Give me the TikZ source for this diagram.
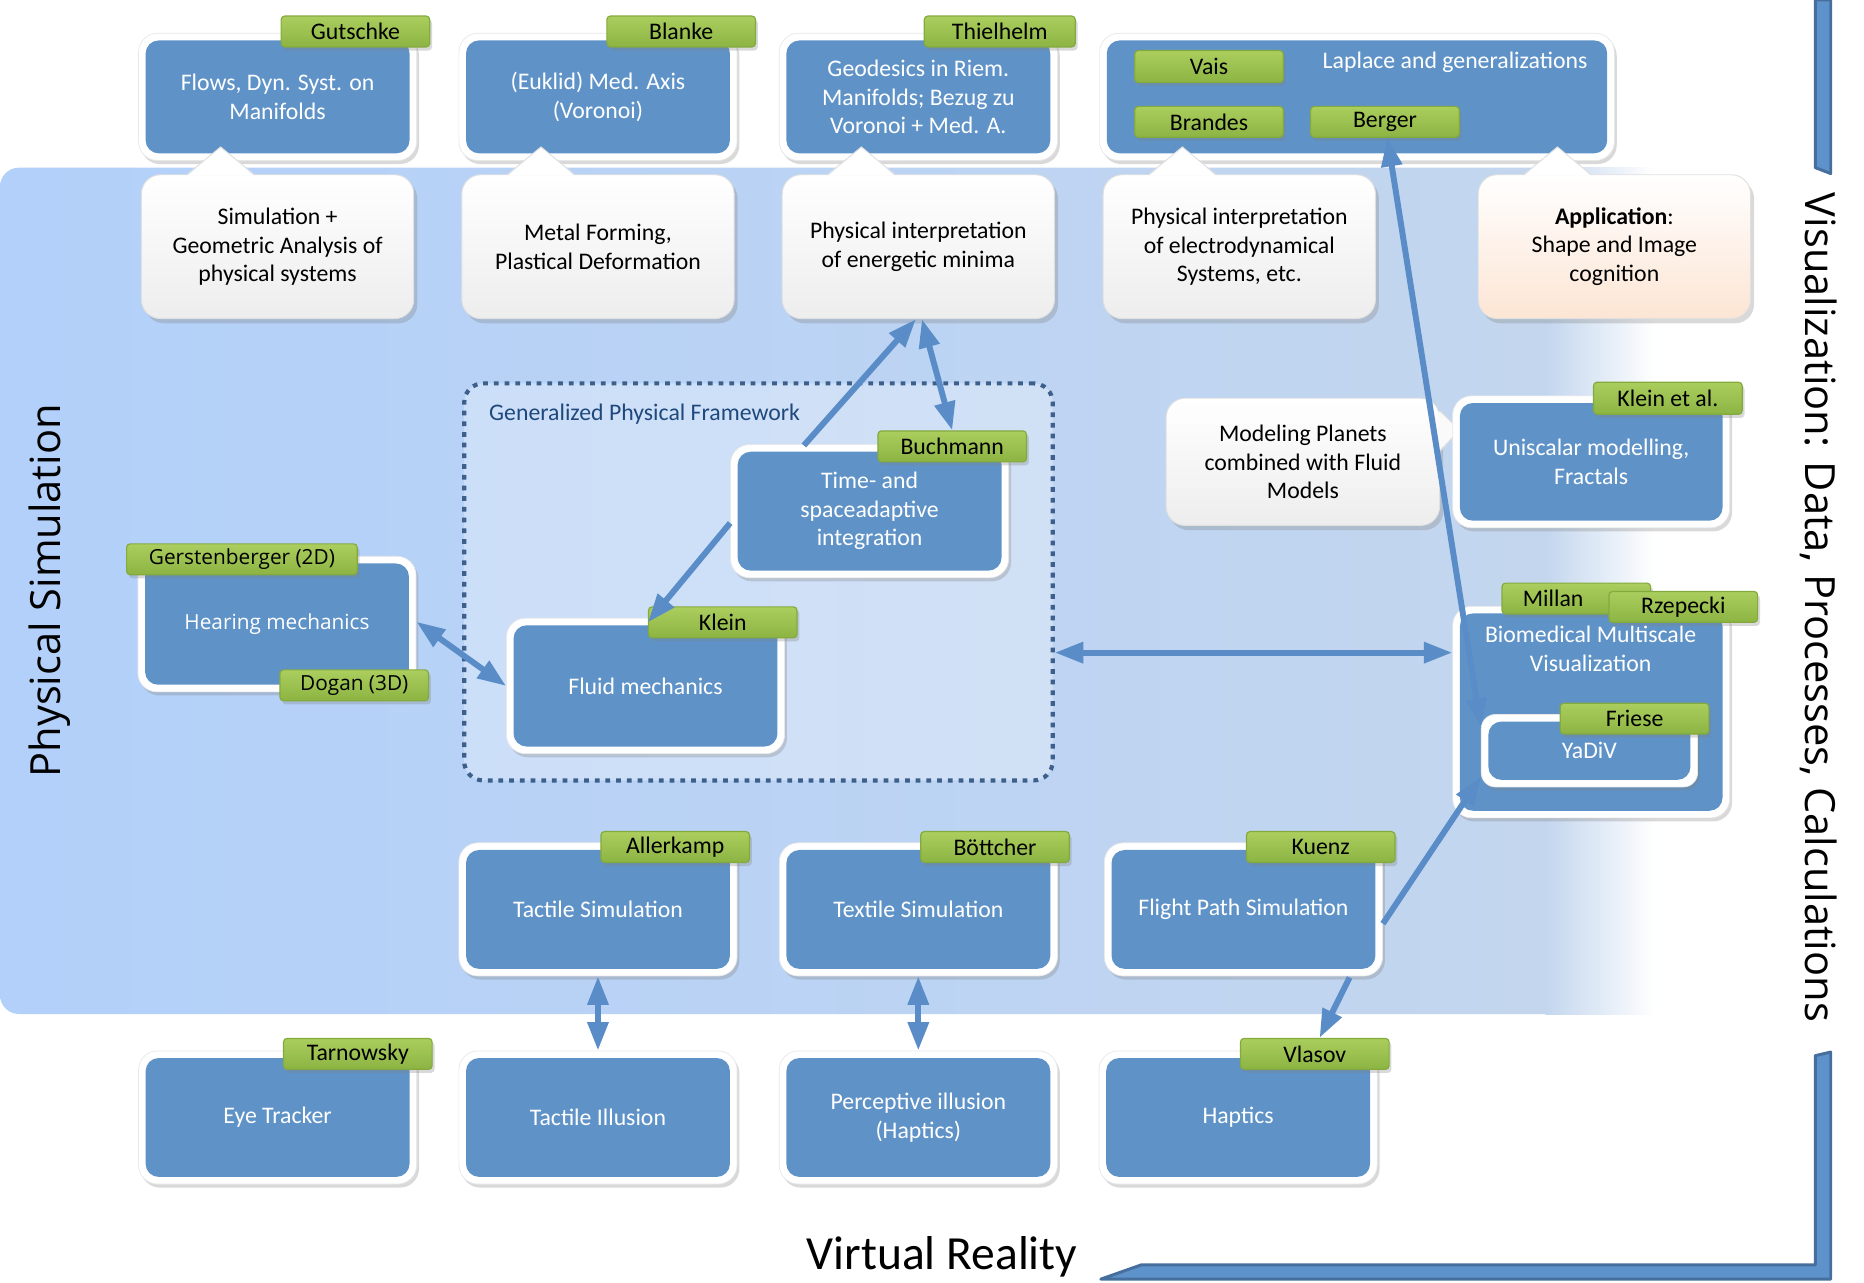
\documentclass[tikz,border=0pt]{standalone}
\usepackage{fontspec}
\setmainfont{Carlito}
\newfontfamily\osans{Open Sans}
\usepackage{tikz}
\usetikzlibrary{calc,arrows.meta,positioning,shadows}
\definecolor{bluex}{HTML}{5F93C8}
\definecolor{arrowx}{HTML}{5A8DC8}
\definecolor{greentop}{HTML}{ABCE5E}
\definecolor{greenbot}{HTML}{8CB443}
\definecolor{greenedge}{HTML}{84AA3E}
\definecolor{bgleft}{HTML}{B2D0FA}
\definecolor{bgright}{HTML}{C3D6EE}
\definecolor{framex}{HTML}{3C5F8C}
\definecolor{titlex}{HTML}{1F497D}
\definecolor{peachx}{HTML}{FCE5D4}
\definecolor{barx}{HTML}{5E92CA}
\definecolor{baredge}{HTML}{466F9E}
\newcommand{\boxfont}{\fontsize{20}{24}\selectfont}
\newcommand{\vfont}{\osans\fontsize{17.5}{21}\selectfont}
\tikzset{
  ar/.style={draw=arrowx,line width=5pt,-{Triangle[length=24pt,width=17pt]}},
  arr/.style={draw=arrowx,line width=5pt,{Triangle[length=24pt,width=17pt]}-{Triangle[length=24pt,width=17pt]}},
  box/.style={fill=white,draw=black!9,line width=.6pt,rounded corners=16pt,text=white,align=center,font=\boxfont,inner sep=2pt,
    minimum width=234pt,minimum height=112pt,drop shadow={shadow xshift=2pt,shadow yshift=-3pt,opacity=.3},
    path picture={\fill[bluex,rounded corners=11pt]
      ([shift={(6pt,-6pt)}]path picture bounding box.north west) rectangle
      ([shift={(-6pt,6pt)}]path picture bounding box.south east);}},
  tag/.style={draw=greenedge,line width=1pt,top color=greentop,bottom color=greenbot,rounded corners=3pt,
    minimum width=125pt,minimum height=26pt,inner sep=0pt,font=\boxfont,text=black,
    drop shadow={shadow xshift=2pt,shadow yshift=-3pt,opacity=.3}},
  bubble/.style={draw=black!12,line width=.8pt,top color=white,bottom color=black!7,rounded corners=16pt,
    minimum width=229pt,minimum height=121pt,align=center,font=\boxfont,inner sep=2pt,
    drop shadow={shadow xshift=3pt,shadow yshift=-4pt,opacity=.3}}
}

\begin{document}
\begin{tikzpicture}[x=1pt,y=-1pt]
\useasboundingbox (0,0) rectangle (1568,1079);
% simulation area
\shade[left color=bgleft,right color=bgright,rounded corners=16pt] (1300,853) -- (0,853) -- (0,141) -- (1300,141);
\shade[left color=bgright,right color=white] (1300,141) rectangle (1392,853);
\node[draw=framex,line width=3.5pt,dash pattern=on 4pt off 5pt,fill=white,fill opacity=.3,rounded corners=16pt,
  minimum width=495pt,minimum height=334pt] (gpf) at (638,489.5) {};
\node[anchor=west,text=titlex,font=\boxfont] (gpftitle) at (408,348) {Generalized Physical Framework};

% top row
\node[box,minimum height=107pt] (flows) at (233.5,81.5) {Flows, Dyn. Syst. on\\Manifolds};
\node[box,minimum height=107pt] (med) at (503,81.5) {(Euklid) Med. Axis\\(Voronoi)};
\node[box,minimum height=107pt] (geo) at (772.5,81.5) {Geodesics in Riem.\\Manifolds; Bezug zu\\Voronoi + Med. A.};
\node[box,minimum width=433pt,minimum height=107pt] (lap) at (1141.5,81.5) {};
\node[text=white,font=\boxfont] (laptxt) at (1224,52) {Laplace and generalizations};

% callouts
\node[bubble] (sim) at (233.5,207.5) {Simulation +\\Geometric Analysis of\\physical systems};
\node[bubble] (metal) at (503,207.5) {Metal Forming,\\Plastical Deformation};
\node[bubble] (ener) at (772.5,207.5) {Physical interpretation\\of energetic minima};
\node[bubble] (elec) at (1042.5,207.5) {Physical interpretation\\of electrodynamical\\Systems, etc.};
\node[bubble,bottom color=peachx] (app) at (1358,207.5) {\textbf{Application}:\\Shape and Image\\cognition};
\foreach \n in {sim,metal,ener,elec,app}{
  \fill[white] ($(\n.north west)+(39,1)$) -- ($(\n.north west)+(67,-23)$) -- ($(\n.north west)+(95,1)$) -- cycle;
  \draw[black!12,line width=.8pt] ($(\n.north west)+(39,0)$) -- ($(\n.north west)+(67,-23)$) -- ($(\n.north west)+(95,0)$);
}

% generalized framework
\node[box] (tsa) at (731.5,430) {Time- and\\spaceadaptive\\integration};
\node[box,minimum height=114pt] (fluid) at (543,577) {Fluid mechanics};
\node[box,minimum height=114pt,font=\vfont] (hear) at (233,525) {Hearing mechanics};

% right column
\node[bubble,minimum width=230pt,minimum height=107pt] (planets) at (1096,388.5) {Modeling Planets\\combined with Fluid\\Models};
\fill[black!2] ($(planets.north east)+(-1,11)$) -- ($(planets.north east)+(16,27)$) -- ($(planets.north east)+(-1,45)$) -- cycle;
\draw[black!12,line width=.8pt] ($(planets.north east)+(0,11)$) -- ($(planets.north east)+(16,27)$) -- ($(planets.north east)+(0,45)$);
\node[box,minimum width=233pt,minimum height=111pt] (uni) at (1338.5,388.5) {Uniscalar modelling,\\Fractals};
\node[box,minimum width=233pt,minimum height=178pt] (bio) at (1338.5,599) {};
\node[text=white,font=\boxfont,align=center] (biotxt) at (1338,546) {Biomedical Multiscale\\Visualization};
\node[box,minimum width=182pt,minimum height=61pt,rounded corners=12pt] (yad) at (1337,631.5) {YaDiV};

% bottom rows
\node[box] (tsim) at (503,765) {Tactile Simulation};
\node[box] (txsim) at (772.5,765) {Textile Simulation};
\node[box] (flight) at (1046,765) {Flight Path Simulation};
\node[box] (eye) at (233.5,940) {Eye Tracker};
\node[box] (till) at (503,940) {Tactile Illusion};
\node[box] (perc) at (772.5,940) {Perceptive illusion\\(Haptics)};
\node[box] (hap) at (1041.5,940) {Haptics};

% name tags
\node[tag] (gut) at (299,26.5) {Gutschke};
\node[tag] (bla) at (573,26.5) {Blanke};
\node[tag,minimum width=127pt] (thi) at (841,26.5) {Thielhelm};
\node[tag,minimum height=27pt] (vais) at (1017,56) {Vais};
\node[tag] (bra) at (1017,102.5) {Brandes};
\node[tag] (ber) at (1165,102.5) {Berger};
\node[tag] (buch) at (801,375.5) {Buchmann};
\node[tag] (klein) at (608,523.5) {Klein};
\node[tag,minimum width=194pt,font=\vfont] (gers) at (203.5,470.5) {Gerstenberger (2D)};
\node[tag,font=\vfont] (dog) at (298,576.5) {Dogan (3D)};
\node[tag,minimum height=27pt] (kea) at (1403,335) {Klein et al.};
\node[tag,text width=110pt,align=left] (mil) at (1326,503.5) {\hspace*{10pt}Millan};
\node[tag] (rze) at (1416,510.5) {Rzepecki};
\node[tag] (fri) at (1375,604.5) {Friese};
\node[tag] (all) at (568,712.5) {Allerkamp};
\node[tag] (boe) at (837,712.5) {Böttcher};
\node[tag] (kue) at (1111,712.5) {Kuenz};
\node[tag] (tar) at (301,886.5) {Tarnowsky};
\node[tag] (vla) at (1106,886.5) {Vlasov};

% connections
\draw[ar] ($(tsa.north west)+(62,1)$) -- ($(ener.south)+(-2,0)$);
\draw[arr] ($(ener.south)+(3,0)$) -- (buch.north);
\draw[ar] ($(tsa.west)+(0,10)$) -- (klein.west);
\draw[arr] ($(hear.east)+(0,-2)$) -- (fluid.west);
\draw[arr] ($(gpf.east)+(0,59.5)$) -- ($(bio.west)+(0,-50)$);
\draw[arr] ($(ber.south)+(2,0)$) -- ($(yad.west)+(0,-20)$);
\draw[ar] ($(flight.east)+(0,12)$) -- ($(yad.west)+(0,22)$);
\draw[ar] ($(flight.south east)+(-28,1)$) -- ($(vla.north)+(4,0)$);
\draw[arr] (tsim.south) -- (till.north);
\draw[arr] (txsim.south) -- (perc.north);

% axes
\filldraw[fill=barx,draw=baredge,line width=2.5pt,line join=round] (1527,0) -- (1540,0) -- (1540,146) -- (1527,141) -- cycle;
\filldraw[fill=barx,draw=baredge,line width=2.5pt,line join=round] (1527,888) -- (1540,885) -- (1540,1076) -- (926,1076) -- (960,1064) -- (1527,1064) -- cycle;
\node[rotate=90,font=\osans\fontsize{35}{40}\selectfont] (physim) at (42,497) {Physical Simulation};
\node[rotate=-90,font=\osans\fontsize{35}{40}\selectfont] (vis) at (1530,511) {Visualization: Data, Processes, Calculations};
\node[anchor=base,font=\fontsize{40}{44}\selectfont] (vr) at (792.5,1068) {Virtual Reality};
\end{tikzpicture}
\end{document}
